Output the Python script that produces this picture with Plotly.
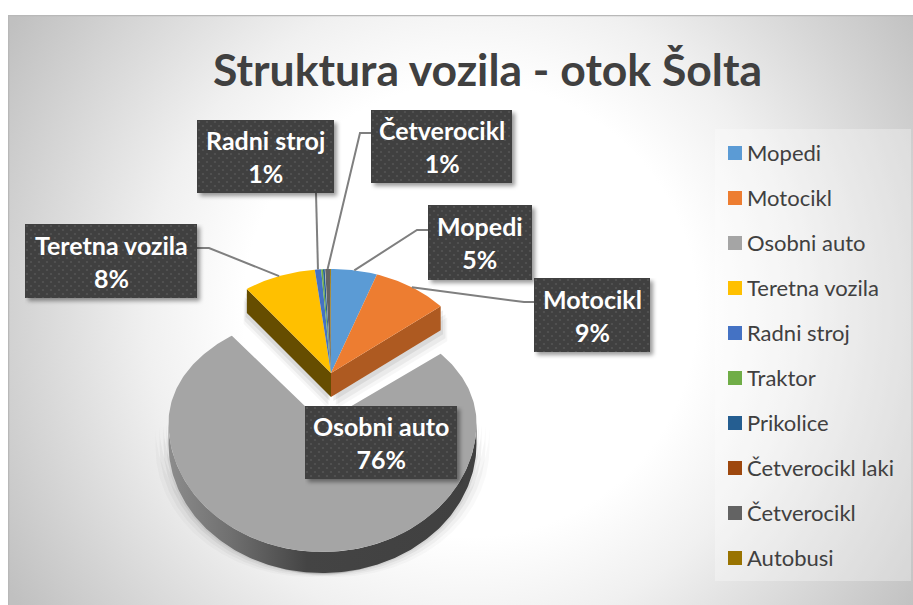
import base64
import math
import plotly.graph_objects as go

W, H = 913, 605

# ---------- data ----------
categories = ["Mopedi", "Motocikl", "Osobni auto", "Teretna vozila", "Radni stroj",
              "Traktor", "Prikolice", "Četverocikl laki", "Četverocikl", "Autobusi"]
values = [5.2, 8.7, 76.0, 8.2, 0.7, 0.2, 0.2, 0.05, 0.55, 0.1]
labelled = ["Radni stroj", "Četverocikl", "Mopedi", "Motocikl", "Teretna vozila", "Osobni auto"]
title_text = "Struktura vozila - otok Šolta"

# ---------- styles ----------
colors = ["#5B9BD5", "#ED7D31", "#A5A5A5", "#FFC000", "#4472C4",
          "#70AD47", "#255E91", "#9E480E", "#636363", "#997300"]
FONT = "Lato, Carlito, Calibri, sans-serif"
TEXT = "#404040"

UP = dict(cx=331, cy=373, rx=143, ryb=104, ryf=104)      # pie body of the upper slices
LOW = dict(cx=322.5, cy=423, rx=154, ryb=108, ryf=129)   # exploded large slice
DEPTH_UP, DEPTH_LOW = 24, 21

BOXES = {  # x0, y0, x1, y1 in page pixels
    "Radni stroj": (197, 120, 334, 193),
    "Četverocikl": (371, 110, 512, 183),
    "Mopedi": (428, 205, 532, 280),
    "Motocikl": (534, 278, 650, 352),
    "Teretna vozila": (25, 224, 197, 298),
    "Osobni auto": (305, 406, 457, 479),
}
# elbow of each leader line: (start on box, bend)
LEADERS = {
    "Radni stroj": [(316, 193)],
    "Četverocikl": [(371, 133), (360, 133)],
    "Mopedi": [(428, 230), (417, 230)],
    "Motocikl": [(534, 302), (524, 302)],
    "Teretna vozila": [(197, 248), (209, 248)],
}

total = sum(values)
starts = [sum(values[:i]) / total for i in range(len(values))]
ends = [sum(values[:i + 1]) / total for i in range(len(values))]


def pt(f, g):
    a = 2 * math.pi * f
    c = math.cos(a)
    return g["cx"] + g["rx"] * math.sin(a), g["cy"] - (g["ryb"] if c > 0 else g["ryf"]) * c


def arc(f0, f1, g):
    n = max(3, int(abs(f1 - f0) * 360))
    return [pt(f0 + (f1 - f0) * i / n, g) for i in range(n + 1)]


def poly(points, color, gradient=None):
    xs = [p[0] for p in points] + [points[0][0]]
    ys = [p[1] for p in points] + [points[0][1]]
    kw = dict(fillgradient=gradient) if gradient else dict(fillcolor=color)
    return go.Scatter(x=xs, y=ys, mode="lines", line=dict(width=0), fill="toself",
                      hoverinfo="skip", showlegend=False, **kw)


def shift(points, dx, dy):
    return [(x + dx, y + dy) for x, y in points]


fig = go.Figure()

# ---------- exploded large slice ----------
iL = categories.index("Osobni auto")
front = arc(0.25, 0.75, LOW)
side = front + shift(front[::-1], 0, DEPTH_LOW)
top_low = [(LOW["cx"], LOW["cy"])] + arc(starts[iL], ends[iL], LOW)
for d, a in ((13, .025), (9, .035), (5, .05), (2, .06)):
    fig.add_trace(poly(shift(side, -d, d * .3), f"rgba(0,0,0,{a})"))
    fig.add_trace(poly(shift(side, d, d * .3), f"rgba(0,0,0,{a})"))
fig.add_trace(poly(side, "#555", dict(
    type="horizontal",
    colorscale=[[0, "#8C8C8C"], [0.2, "#707070"], [0.45, "#444444"], [1, "#404040"]])))
fig.add_trace(poly(top_low, colors[iL]))

# ---------- upper slices: shadows, cut faces, tops ----------
iM, iT = categories.index("Motocikl"), categories.index("Teretna vozila")
apex = (UP["cx"], UP["cy"])
apex_low = (UP["cx"], UP["cy"] + DEPTH_UP)
p_right = pt(ends[iM], UP)
p_left = pt(starts[iT], UP)
face_r = [apex, p_right, (p_right[0], p_right[1] + DEPTH_UP), apex_low]
face_l = [apex, p_left, (p_left[0], p_left[1] + DEPTH_UP), apex_low]
for d, a in ((11, .03), (8, .05), (4, .07)):
    fig.add_trace(poly(shift(face_r, d * .6, d), f"rgba(0,0,0,{a})"))
    fig.add_trace(poly(shift(face_l, d * -.3, d), f"rgba(0,0,0,{a})"))
fig.add_trace(poly(face_r, "#AE5A21"))
fig.add_trace(poly(face_l, "#664D00"))
for i, c in enumerate(colors):
    if i != iL:
        fig.add_trace(poly([apex] + arc(starts[i], ends[i], UP), c))

# ---------- leader lines ----------
for name, pts in LEADERS.items():
    i = categories.index(name)
    end = pt((starts[i] + ends[i]) / 2, UP)
    all_pts = pts + [end]
    fig.add_trace(go.Scatter(x=[p[0] for p in all_pts], y=[p[1] for p in all_pts],
                             mode="lines", line=dict(color="#7F7F7F", width=2),
                             hoverinfo="skip", showlegend=False))

# ---------- legend column ----------
for i, (name, c) in enumerate(zip(categories, colors)):
    fig.add_trace(go.Scatter(
        x=[735], y=[153 + 45 * i], mode="markers", name=name, showlegend=False, hoverinfo="skip",
        marker=dict(symbol="square", size=14, color=c)))
    fig.add_trace(go.Scatter(
        x=[747], y=[155 + 45 * i], mode="text", text=[name], textposition="middle right",
        showlegend=False, hoverinfo="skip",
        textfont=dict(family=FONT, size=22, color=TEXT)))


# ---------- background and label boxes as SVG paint ----------
def uri(svg):
    return "data:image/svg+xml;base64," + base64.b64encode(svg.encode()).decode()


def paper_image(svg, x0, y0, w, h, layer):
    return dict(source=uri(svg), xref="paper", yref="paper", x=x0 / W, y=1 - y0 / H,
                sizex=w / W, sizey=h / H, xanchor="left", yanchor="top",
                sizing="stretch", layer=layer)


bw, bh = W - 8, H - 15
bg_svg = f'''<svg xmlns="http://www.w3.org/2000/svg" width="{bw}" height="{bh}" viewBox="0 0 {bw} {bh}">
<defs><radialGradient id="g" gradientUnits="userSpaceOnUse" cx="462" cy="295" r="540">
<stop offset="0.42" stop-color="#ffffff"/><stop offset="0.6" stop-color="#f0f0f0"/>
<stop offset="1" stop-color="#c0c0c0"/></radialGradient></defs>
<rect width="{bw}" height="{bh}" fill="url(#g)"/>
<path d="M0.5 {bh} V0.5 H{bw}" fill="none" stroke="#b8b8b8" stroke-width="1.5"/>
</svg>'''
images = [paper_image(bg_svg, 8, 15, bw, bh, "below")]

for name, (x0, y0, x1, y1) in BOXES.items():
    w, h = x1 - x0, y1 - y0
    pad = 10
    svg = f'''<svg xmlns="http://www.w3.org/2000/svg" width="{w + pad}" height="{h + pad}" viewBox="0 0 {w + pad} {h + pad}">
<defs><pattern id="p" width="8" height="8" patternUnits="userSpaceOnUse">
<rect width="8" height="8" fill="#404040"/><circle cx="2" cy="2" r="1.1" fill="#545454"/><circle cx="6" cy="6" r="1.1" fill="#545454"/></pattern>
<filter id="s" x="-20%" y="-20%" width="140%" height="140%"><feGaussianBlur stdDeviation="2"/></filter></defs>
<rect x="3" y="3" width="{w}" height="{h}" fill="#000" fill-opacity="0.4" filter="url(#s)"/>
<rect width="{w}" height="{h}" fill="url(#p)"/></svg>'''
    images.append(paper_image(svg, x0, y0, w + pad, h + pad, "above"))

annotations = []
for name in labelled:
    x0, y0, x1, y1 = BOXES[name]
    pct = int(values[categories.index(name)] / total * 100 + 0.5)
    annotations.append(dict(
        x=(x0 + x1) / 2, y=(y0 + y1) / 2, xref="x", yref="y", showarrow=False,
        text=f"<b>{name}</b><br><b>{pct}%</b>", align="center",
        font=dict(family=FONT, size=25, color="#FFFFFF")))

fig.update_layout(
    width=W, height=H, autosize=False,
    margin=dict(l=0, r=0, t=0, b=0),
    paper_bgcolor="#FFFFFF", plot_bgcolor="rgba(0,0,0,0)",
    showlegend=False,
    title=dict(text=f"<b>{title_text}</b>", x=487.5 / W, xanchor="center", xref="paper",
               y=1 - 70 / H, yanchor="middle", yref="paper",
               font=dict(family=FONT, size=44.5, color=TEXT)),
    xaxis=dict(range=[0, W], visible=False, fixedrange=True),
    yaxis=dict(range=[H, 0], visible=False, fixedrange=True),
    images=images,
    annotations=annotations,
    shapes=[dict(type="rect", xref="x", yref="y", x0=715, x1=911, y0=129, y1=581, layer="below",
                 fillcolor="rgba(255,255,255,0.3)", line=dict(width=0))],
)

fig.write_html("out.html", config=dict(displayModeBar=False),
               post_script="document.body.style.margin='0';document.documentElement.style.overflow='hidden';")
